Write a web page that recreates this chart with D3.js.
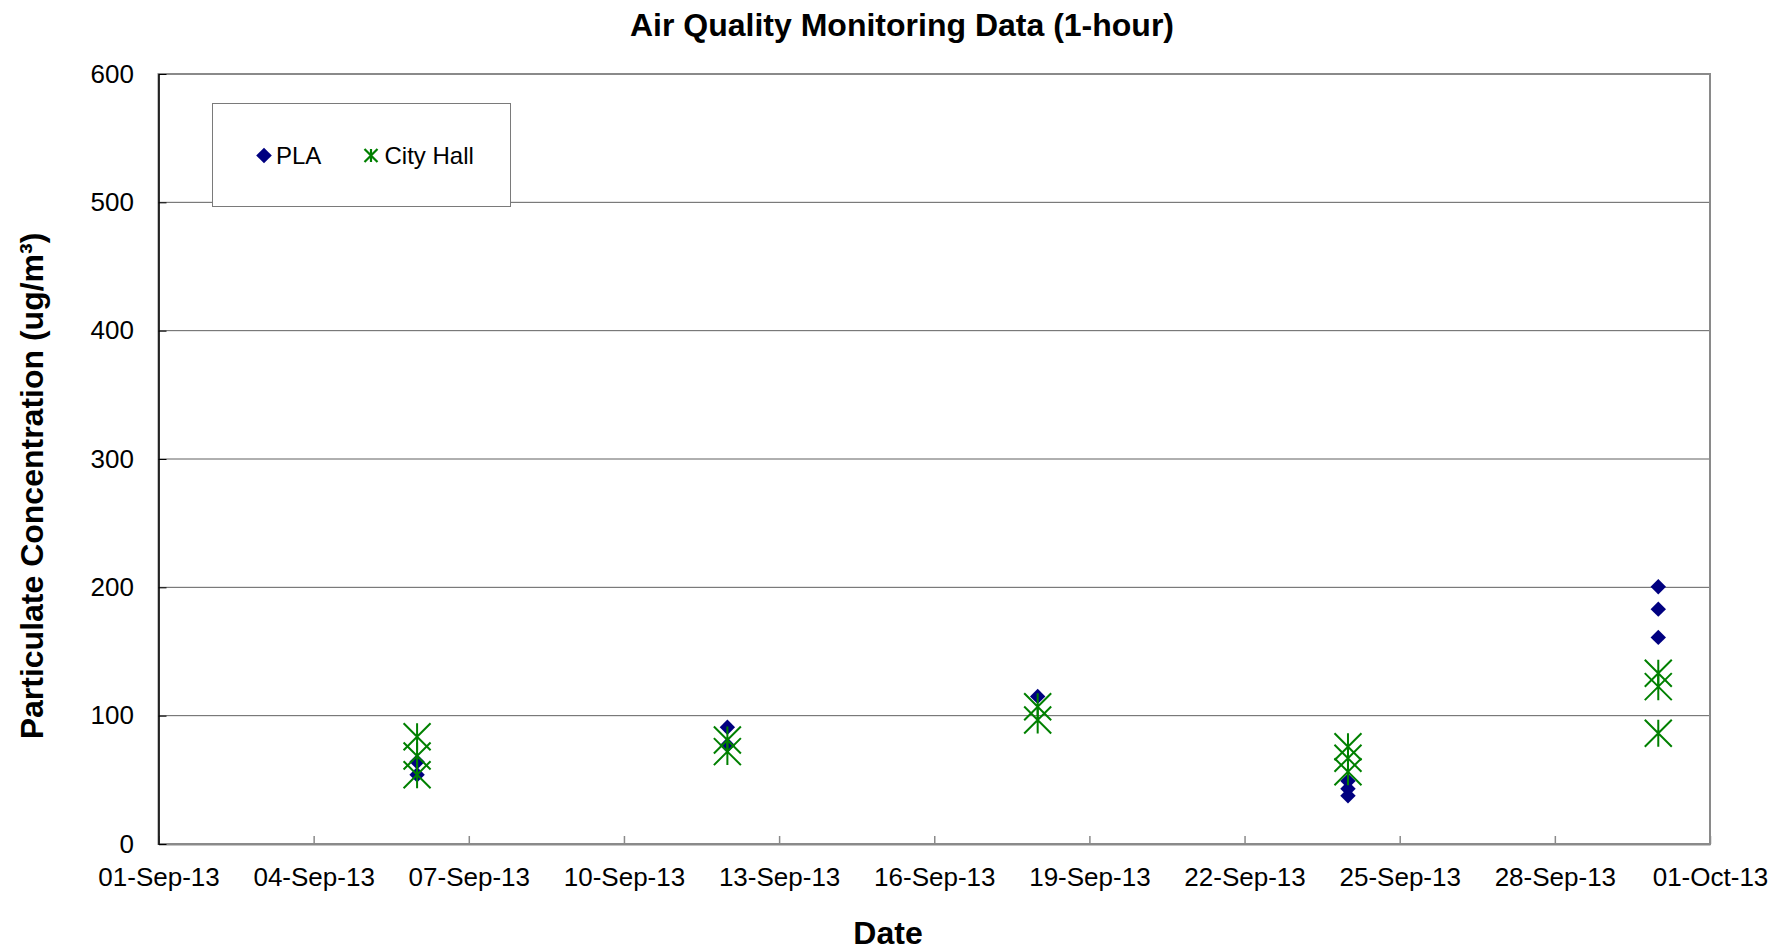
<!DOCTYPE html>
<html>
<head>
<meta charset="utf-8">
<script src="https://cdn.jsdelivr.net/npm/d3@7"></script>
<style>
  html, body { margin: 0; padding: 0; background: #fff; }
  svg { display: block; font-family: "Liberation Sans", Arial, sans-serif; }
</style>
</head>
<body>
<svg id="chart" width="1787" height="952"></svg>
<script>
// ---- Data ----
const seriesNames = ["PLA", "City Hall"];
const plaDates   = ["2013-09-06","2013-09-06","2013-09-12","2013-09-12","2013-09-18","2013-09-24","2013-09-24","2013-09-24","2013-09-30","2013-09-30","2013-09-30"];
const plaValues  = [64, 54, 91, 77, 115, 49, 43, 37.6, 200.5, 183, 161];
const cityDates  = ["2013-09-06","2013-09-06","2013-09-06","2013-09-12","2013-09-12","2013-09-18","2013-09-18","2013-09-24","2013-09-24","2013-09-24","2013-09-30","2013-09-30","2013-09-30"];
const cityValues = [83.6, 68.6, 54, 81, 72, 107, 96.6, 75.8, 66.8, 56.3, 133, 122.6, 86.3];
const xTickLabels = ["01-Sep-13","04-Sep-13","07-Sep-13","10-Sep-13","13-Sep-13","16-Sep-13","19-Sep-13","22-Sep-13","25-Sep-13","28-Sep-13","01-Oct-13"];
const yTickValues = [0, 100, 200, 300, 400, 500, 600];

(function () {
// ---- Layout ----
const svg = d3.select("#chart");
const pLeft = 158.5, pRight = 1710, pTop = 74, pBottom = 844;
const parseISO = d3.utcParse("%Y-%m-%d");
const parseTick = d3.utcParse("%d-%b-%y");
const fmtTick = d3.utcFormat("%d-%b-%y");
const xTicks = xTickLabels.map(parseTick);

const x = d3.scaleUtc().domain([xTicks[0], xTicks[xTicks.length - 1]]).range([pLeft, pRight]);
const y = d3.scaleLinear().domain([0, 600]).range([pBottom, pTop]);

// gridlines
svg.append("g").selectAll("line")
  .data(yTickValues.filter(v => v > 0 && v < 600))
  .join("line")
  .attr("x1", pLeft).attr("x2", pRight)
  .attr("y1", d => y(d)).attr("y2", d => y(d))
  .attr("stroke", "#606060").attr("stroke-width", 1);

// plot border
svg.append("rect")
  .attr("x", pLeft).attr("y", pTop)
  .attr("width", pRight - pLeft).attr("height", pBottom - pTop)
  .attr("fill", "none").attr("stroke", "#8a8a8a").attr("stroke-width", 2);

// x axis
const xAxis = svg.append("g")
  .attr("transform", `translate(0,${pBottom})`)
  .call(d3.axisBottom(x).tickValues(xTicks).tickFormat(fmtTick).tickSizeInner(-8).tickSizeOuter(0).tickPadding(23.5));
xAxis.select(".domain").attr("stroke", "#8a8a8a").attr("stroke-width", 2);
xAxis.selectAll(".tick line").attr("stroke", "#8a8a8a").attr("stroke-width", 1.5);
xAxis.selectAll("text").attr("font-size", 26).attr("fill", "#000")
  .attr("font-family", "'Liberation Sans', Arial, sans-serif");

// y axis
const yAxis = svg.append("g")
  .attr("transform", `translate(${pLeft},0)`)
  .call(d3.axisLeft(y).tickValues(yTickValues).tickSizeInner(-8).tickSizeOuter(0).tickPadding(24.5));
yAxis.select(".domain").attr("stroke", "#000").attr("stroke-width", 1.5);
yAxis.selectAll(".tick line").attr("stroke", "#000").attr("stroke-width", 1);
yAxis.selectAll("text").attr("font-size", 26).attr("fill", "#000")
  .attr("font-family", "'Liberation Sans', Arial, sans-serif");

// markers
const diamond = s => `M0,${-s}L${s},0L0,${s}L${-s},0Z`;
const asterisk = h => `M${-h},${-h}L${h},${h}M${-h},${h}L${h},${-h}M0,${-h}L0,${h}`;

const pla = plaDates.map((d, i) => ({date: parseISO(d), value: plaValues[i]}));
const city = cityDates.map((d, i) => ({date: parseISO(d), value: cityValues[i]}));

svg.append("g").selectAll("path")
  .data(pla).join("path")
  .attr("transform", d => `translate(${x(d.date)},${y(d.value)})`)
  .attr("d", diamond(7.7))
  .attr("fill", "#000080");

svg.append("g").selectAll("path")
  .data(city).join("path")
  .attr("transform", d => `translate(${x(d.date)},${y(d.value)})`)
  .attr("d", asterisk(13.5))
  .attr("fill", "none").attr("stroke", "#008000").attr("stroke-width", 2);

// legend
const lg = svg.append("g");
lg.append("rect").attr("x", 212.5).attr("y", 103.5).attr("width", 298).attr("height", 103)
  .attr("fill", "#fff").attr("stroke", "#7a7a7a").attr("stroke-width", 1);
lg.append("path").attr("transform", "translate(264,155.5)").attr("d", diamond(7.8)).attr("fill", "#000080");
lg.append("text").attr("x", 276).attr("y", 164).attr("font-size", 24).text(seriesNames[0]);
lg.append("path").attr("transform", "translate(371,155.5)").attr("d", asterisk(6.5))
  .attr("fill", "none").attr("stroke", "#008000").attr("stroke-width", 2.2);
lg.append("text").attr("x", 384.5).attr("y", 164).attr("font-size", 24).text(seriesNames[1]);

// titles
svg.append("text").attr("x", 902).attr("y", 35.5).attr("text-anchor", "middle")
  .attr("font-size", 32).attr("font-weight", "bold")
  .text("Air Quality Monitoring Data (1-hour)");
svg.append("text").attr("text-anchor", "middle")
  .attr("transform", "translate(43,486) rotate(-90)")
  .attr("font-size", 32).attr("font-weight", "bold")
  .text("Particulate Concentration (ug/m³)");
svg.append("text").attr("x", 888).attr("y", 944).attr("text-anchor", "middle")
  .attr("font-size", 32).attr("font-weight", "bold")
  .text("Date");
})();
</script>
</body>
</html>
